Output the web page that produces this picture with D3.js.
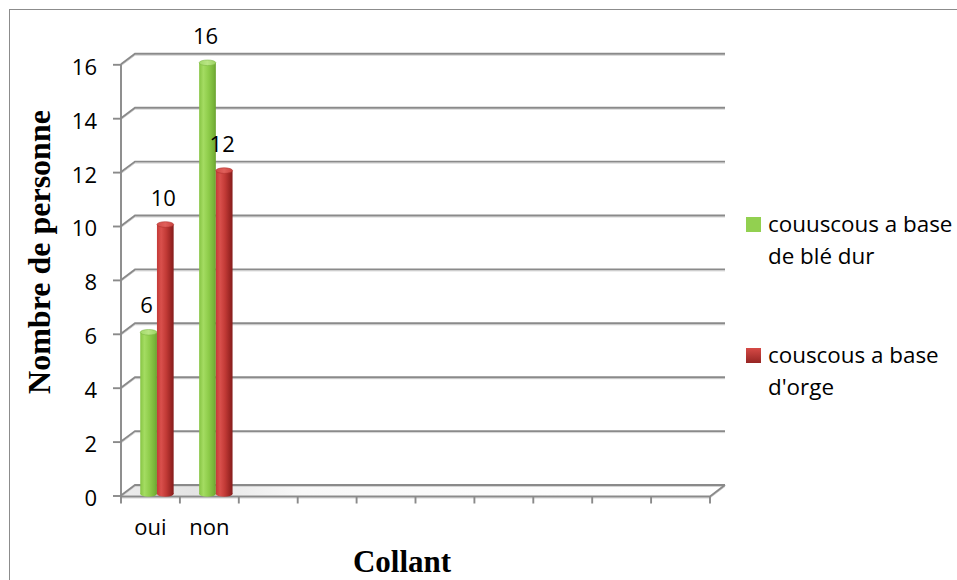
<!DOCTYPE html>
<html>
<head>
<meta charset="utf-8">
<script src="https://cdn.jsdelivr.net/npm/d3@7"></script>
<style>
  html, body { margin: 0; padding: 0; background: #fff; }
  svg { display: block; }
</style>
</head>
<body>
<svg id="chart" width="957" height="580"></svg>
<script>
// Category labels (10 slots on the floor, only the first two are used)
const categories = ["oui", "non", "", "", "", "", "", "", "", ""];
const seriesNames = ["couuscous a base\nde blé dur", "couscous a base\nd'orge"];
const bleDur = [6, 16];
const orge = [10, 12];
const yTicks = [0, 2, 4, 6, 8, 10, 12, 14, 16];

const svg = d3.select("#chart");
const W = 957, H = 580;

// frame
svg.append("rect").attr("x", 9.5).attr("y", 9.5).attr("width", W + 10).attr("height", H + 10)
  .attr("fill", "#fff").attr("stroke", "#8c8c8c").attr("stroke-width", 1);

const defs = svg.append("defs");
function hGrad(id, stops) {
  const g = defs.append("linearGradient").attr("id", id).attr("x1", "0").attr("x2", "1").attr("y1", "0").attr("y2", "0");
  stops.forEach(s => g.append("stop").attr("offset", s[0]).attr("stop-color", s[1]));
}
hGrad("gGreen", [[0, "#86c443"], [0.25, "#a4dc62"], [0.55, "#8fcd4b"], [0.85, "#79b53a"], [1, "#6aa22f"]]);
hGrad("gRed", [[0, "#c43a37"], [0.25, "#d9504c"], [0.55, "#c23a36"], [0.85, "#9a2523"], [1, "#851d1c"]]);
hGrad("gGreenTop", [[0, "#a3d96a"], [0.5, "#b9e584"], [1, "#9bd261"]]);
hGrad("gRedTop", [[0, "#d24b47"], [0.5, "#e0605b"], [1, "#c9423e"]]);
const vg = defs.append("linearGradient").attr("id", "gRedLeg").attr("x1", "0").attr("x2", "0").attr("y1", "0").attr("y2", "1");
vg.append("stop").attr("offset", 0).attr("stop-color", "#d64a46");
vg.append("stop").attr("offset", 1).attr("stop-color", "#962523");
const fg = defs.append("linearGradient").attr("id", "gFloor").attr("x1", "0").attr("x2", "1").attr("y1", "0").attr("y2", "0");
fg.append("stop").attr("offset", 0).attr("stop-color", "#ececec");
fg.append("stop").attr("offset", 0.12).attr("stop-color", "#e4e4e4");
fg.append("stop").attr("offset", 0.3).attr("stop-color", "#f8f8f8");
fg.append("stop").attr("offset", 1).attr("stop-color", "#ffffff");

// scales
const x0 = 121, x1 = 710;
const x = d3.scaleBand().domain(d3.range(categories.length)).range([x0, x1]).paddingInner(0).paddingOuter(0);
const y = d3.scaleLinear().domain([0, 16]).range([495.5, 64.3]);
const DX = 15, DY = -10.5;          // depth of the 3D box
const BAR_DX = 6.5, BAR_DY = -1.5;  // bars sit inside the box depth
const barW = 16.7;
const xs = d3.scaleBand().domain([0, 1]).range([0, barW * 2]);

const gridColor = "#8a8a8a";

// floor
const floorPts = [[x0, y(0)], [x1, y(0)], [x1 + DX, y(0) + DY], [x0 + DX - 1, y(0) + DY]];
svg.append("path").attr("d", d3.line()(floorPts) + "Z").attr("fill", "url(#gFloor)").attr("stroke", "none");

// gridlines on back wall with diagonal leading edges
const grid = svg.append("g");
yTicks.forEach(v => {
  const yy = y(v);
  grid.append("path")
    .attr("d", d3.line()([[x0, yy], [x0 + DX - 1, yy + DY], [x1 + DX, yy + DY]]))
    .attr("fill", "none").attr("stroke", "#d4d4d4").attr("stroke-width", 1).attr("transform", "translate(0,1.5)");
  grid.append("path")
    .attr("d", d3.line()([[x0, yy], [x0 + DX - 1, yy + DY], [x1 + DX, yy + DY]]))
    .attr("fill", "none").attr("stroke", gridColor).attr("stroke-width", 1.9);
});

// front floor edge and right diagonal
svg.append("path").attr("d", d3.line()([[x0, y(0) + 1], [x1, y(0) + 1], [x1 + DX, y(0) + DY]]))
  .attr("fill", "none").attr("stroke", "#d4d4d4").attr("stroke-width", 1).attr("transform", "translate(0,1.5)");
svg.append("path").attr("d", d3.line()([[x0, y(0) + 1], [x1, y(0) + 1], [x1 + DX, y(0) + DY]]))
  .attr("fill", "none").attr("stroke", gridColor).attr("stroke-width", 1.9);

// x axis ticks
const xt = svg.append("g");
d3.range(categories.length + 1).forEach(i => {
  const xx = i < categories.length ? x(i) : x1;
  xt.append("line").attr("x1", xx).attr("x2", xx).attr("y1", y(0) + 1).attr("y2", y(0) + 8)
    .attr("stroke", gridColor).attr("stroke-width", 1.9);
});

// y axis line + ticks
svg.append("line").attr("x1", x0).attr("x2", x0).attr("y1", y(16)).attr("y2", y(0) + 1)
  .attr("stroke", gridColor).attr("stroke-width", 1.9);
const yAxis = d3.axisLeft(y).tickValues(yTicks).tickSize(8).tickPadding(16).tickSizeOuter(0);
const yg = svg.append("g").attr("transform", `translate(${x0},0)`).call(yAxis);
yg.select(".domain").remove();
yg.selectAll(".tick line").attr("stroke", gridColor).attr("stroke-width", 1.9);
yg.selectAll(".tick text").attr("font-family", "'Open Sans'").attr("font-size", 22).attr("fill", "#000")
  .attr("dy", "0.45em");

// category labels
const xAxis = d3.axisBottom(x).tickFormat(i => categories[i]).tickSize(0).tickPadding(24);
const xg = svg.append("g").attr("transform", `translate(0,${y(0)})`).call(xAxis);
xg.select(".domain").remove();
xg.selectAll(".tick text").attr("font-family", "'Open Sans'").attr("font-size", 22).attr("fill", "#000");

// cylinders
const series = [
  { vals: bleDur, fill: "url(#gGreen)", top: "url(#gGreenTop)", rim: "#7fb846" },
  { vals: orge, fill: "url(#gRed)", top: "url(#gRedTop)", rim: "#b0322f" }
];
const bars = svg.append("g");
const ry = 2.8;
const labels = [];
series.forEach((s, si) => {
  s.vals.forEach((v, ci) => {
    const bx = x(ci) + x.bandwidth() / 2 - barW + BAR_DX + xs(si);
    const base = y(0) + BAR_DY;
    const top = y(v) + BAR_DY;
    const cx = bx + barW / 2;
    const g = bars.append("g");
    g.append("ellipse").attr("cx", cx).attr("cy", base).attr("rx", barW / 2).attr("ry", ry).attr("fill", s.fill);
    g.append("rect").attr("x", bx).attr("y", top).attr("width", barW).attr("height", base - top).attr("fill", s.fill);
    g.append("ellipse").attr("cx", cx).attr("cy", top).attr("rx", barW / 2).attr("ry", ry)
      .attr("fill", s.top).attr("stroke", s.rim).attr("stroke-width", 0.6);
    labels.push({ cx, top, v });
  });
});

// value labels
svg.append("g").selectAll("text").data(labels).join("text")
  .attr("x", d => d.cx - 2).attr("y", d => d.top - 19)
  .attr("text-anchor", "middle").attr("font-family", "'Open Sans'").attr("font-size", 22).attr("fill", "#000")
  .text(d => d.v);

// axis titles
svg.append("text").attr("transform", "translate(50,252) rotate(-90)")
  .attr("text-anchor", "middle").attr("font-family", "'Liberation Serif'").attr("font-weight", "bold")
  .attr("font-size", 32).attr("fill", "#000").text("Nombre de personne");
svg.append("text").attr("x", 402).attr("y", 572)
  .attr("text-anchor", "middle").attr("font-family", "'Liberation Serif'").attr("font-weight", "bold")
  .attr("font-size", 31).attr("fill", "#000").text("Collant");

// legend
const legend = svg.append("g");
const legFills = ["#92d050", "url(#gRedLeg)"];
const legY = [232, 363];
seriesNames.forEach((name, i) => {
  legend.append("rect").attr("x", 746).attr("y", legY[i] - 15).attr("width", 15).attr("height", 15).attr("fill", legFills[i]);
  const t = legend.append("text").attr("x", 768).attr("y", legY[i])
    .attr("font-family", "'Open Sans'").attr("font-size", 22.4).attr("fill", "#000");
  name.split("\n").forEach((ln, j) => {
    t.append("tspan").attr("x", 768).attr("dy", j === 0 ? 0 : 31.5).text(ln);
  });
});
</script>
</body>
</html>
